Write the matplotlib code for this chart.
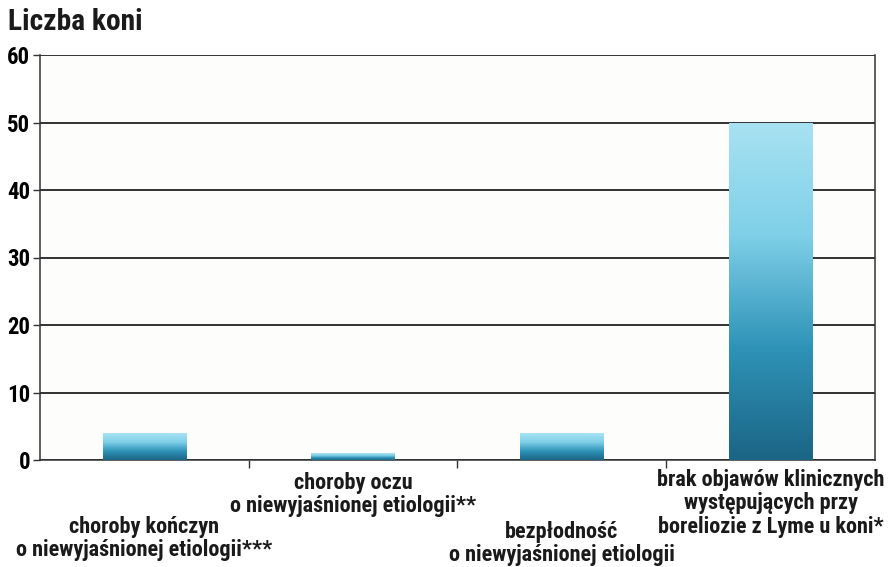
import numpy as np
import matplotlib
matplotlib.use("Agg")
import matplotlib.pyplot as plt
from matplotlib import font_manager as fm
from matplotlib.colors import LinearSegmentedColormap

categories = [
    "choroby kończyn\no niewyjaśnionej etiologii***",
    "choroby oczu\no niewyjaśnionej etiologii**",
    "bezpłodność\no niewyjaśnionej etiologii",
    "brak objawów klinicznych\nwystępujących przy\nboreliozie z Lyme u koni*",
]
values = [4, 1, 4, 50]
yticks = [0, 10, 20, 30, 40, 50, 60]
title = "Liczba koni"
label_offsets = [68, 24, 73, 21]  # pixels below axis for first line center

available = {f.name for f in fm.fontManager.ttflist}
candidates = ['Liberation Sans Narrow', 'Roboto Condensed', 'Open Sans Condensed',
              'DejaVu Sans Condensed', 'Roboto', 'Liberation Sans', 'DejaVu Sans']
family = next(c for c in candidates if c in available)
plt.rcParams['font.family'] = [family, 'DejaVu Sans']
plt.rcParams['font.weight'] = 'bold'

fig = plt.figure(figsize=(8.95, 5.67), dpi=100)
ax = fig.add_axes([40/895, 1 - 460/567, 835/895, 405/567])
renderer = fig.canvas.get_renderer()


def measure(text, fs, **kw):
    t = fig.text(0, 0, text, fontsize=fs, fontweight='bold', **kw)
    bb = t.get_window_extent(renderer)
    t.remove()
    return bb


def fit_size(text, target_px, base=14):
    return base * target_px / measure(text, base).width


title_fs = fit_size(title, 135)
label_fs = min(fit_size("brak objawów klinicznych", 232), 16)
tick_fs = min(fit_size("60", 23), title_fs)

# line spacing so that consecutive lines are ~23.5 px apart
line_px = 23.5
h1 = measure("Ag", label_fs, linespacing=1.0).height
h2 = measure("Ag\nAg", label_fs, linespacing=1.0).height
step1 = h2 - h1
ls = line_px / step1

x = np.arange(len(values))
bars = ax.bar(x, values, width=0.4, color='none', edgecolor='none', zorder=3)

cmap = LinearSegmentedColormap.from_list('g', ['#1b6585', '#2f93b8', '#7fd0e8', '#a8e2f2'])
grad = np.linspace(0, 1, 256).reshape(-1, 1)
for b in bars:
    x0, y0 = b.get_x(), b.get_y()
    w, h = b.get_width(), b.get_height()
    im = ax.imshow(grad, cmap=cmap, aspect='auto', origin='lower',
                   extent=[x0, x0 + w, y0, y0 + h], zorder=3)
    im.set_clip_path(b)

ax.set_xlim(-0.5, 3.5)
ax.set_ylim(0, 60)
ax.set_yticks(yticks)
ax.set_yticklabels([str(t) for t in yticks], fontsize=tick_fs, fontweight='bold')
ax.tick_params(axis='y', direction='out', length=5, width=1, pad=2, color='#333333')
ax.set_xticks(np.arange(len(values) - 1) + 0.5)
ax.set_xticklabels([])
ax.tick_params(axis='x', direction='out', length=6, width=1, color='#333333')
ax.yaxis.grid(True, color='#222222', linewidth=1.3, zorder=1)
ax.set_axisbelow(True)
for s in ['left', 'bottom', 'right']:
    ax.spines[s].set_color('#333333')
    ax.spines[s].set_linewidth(1.1)
ax.spines['top'].set_visible(False)
ax.set_facecolor('#fdfdfb')

for i, (lab, off) in enumerate(zip(categories, label_offsets)):
    ax.annotate(lab, xy=(i, 0), xycoords='data',
                xytext=(0, -(off - line_px / 2) * 0.72), textcoords='offset points',
                ha='center', va='top', fontsize=label_fs, fontweight='bold',
                color='#1a1a1a', linespacing=ls,
                annotation_clip=False)

fig.text(8/895, 1 - 22/567, title, fontsize=title_fs, fontweight='bold',
         ha='left', va='center', color='#1a1a1a')

fig.savefig('out.png', dpi=100)
